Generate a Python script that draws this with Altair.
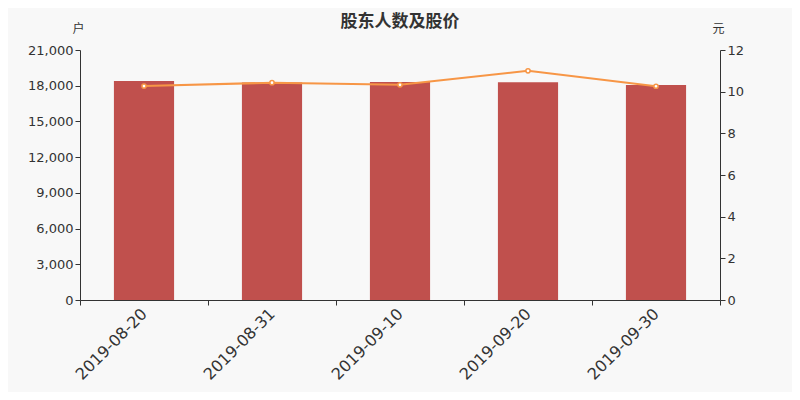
import altair as alt
import pandas as pd

dates = ["2019-08-20", "2019-08-31", "2019-09-10", "2019-09-20", "2019-09-30"]
holders = [18400, 18270, 18310, 18290, 18060]
prices = [10.27, 10.43, 10.33, 11.0, 10.26]
title_text = ["股东人数及股价"]

df = pd.DataFrame({"date": dates, "holders": holders, "price": prices})

x = alt.X("date:N", sort=dates, title=None,
          scale=alt.Scale(paddingInner=0, paddingOuter=0),
          axis=alt.Axis(labelAngle=-45, labelFontSize=16, labelColor="#333",
                        labelFont="DejaVu Sans", labelAlign="right", labelBaseline="middle",
                        labelPadding=6,
                        domainColor="#333", tickColor="#333", tickBand="extent", tickSize=5))

axis_common = dict(titleAngle=0, titleX=-2, titleY=-22, titleAlign="center",
                   titleBaseline="middle", titleFont="Noto Sans CJK SC",
                   titleFontWeight="normal", titleFontSize=12, titleColor="#333",
                   labelFont="DejaVu Sans", labelFontSize=13, labelColor="#333",
                   domainColor="#333", tickColor="#333", grid=False, tickSize=5)

bars = alt.Chart(df).mark_bar(color="#c0504d", width=alt.RelativeBandSize(0.47)).encode(
    x=x,
    y=alt.Y("holders:Q", scale=alt.Scale(domain=[0, 21000], nice=False),
            axis=alt.Axis(values=list(range(0, 21001, 3000)), format=",.0f", title="户",
                          **axis_common)),
)

line = alt.Chart(df).mark_line(color="#f79646", strokeWidth=2,
                               point=alt.OverlayMarkDef(filled=True, fill="white",
                                                        stroke="#f79646", strokeWidth=1.5, size=18)).encode(
    x=alt.X("date:N", sort=dates),
    y=alt.Y("price:Q", scale=alt.Scale(domain=[0, 12], nice=False),
            axis=alt.Axis(orient="right", values=list(range(0, 13, 2)), format="d", title="元",
                          **axis_common)),
)

title = alt.Chart(pd.DataFrame({"t": title_text})).mark_text(
    font="Noto Sans CJK SC", fontSize=17, fontWeight="bold", color="#333",
    align="center", baseline="middle"
).encode(text="t:N", x=alt.value(320), y=alt.value(-28))

chart = alt.layer(bars, line, title).resolve_scale(y="independent").properties(
    width=640, height=250,
    autosize=alt.AutoSizeParams(type="none"),
    padding={"left": 72, "top": 42, "right": 72, "bottom": 92},
    background="#f8f8f8",
).configure_view(stroke=None)

chart.save("out.html", embed_options={"renderer": "svg", "actions": False})
